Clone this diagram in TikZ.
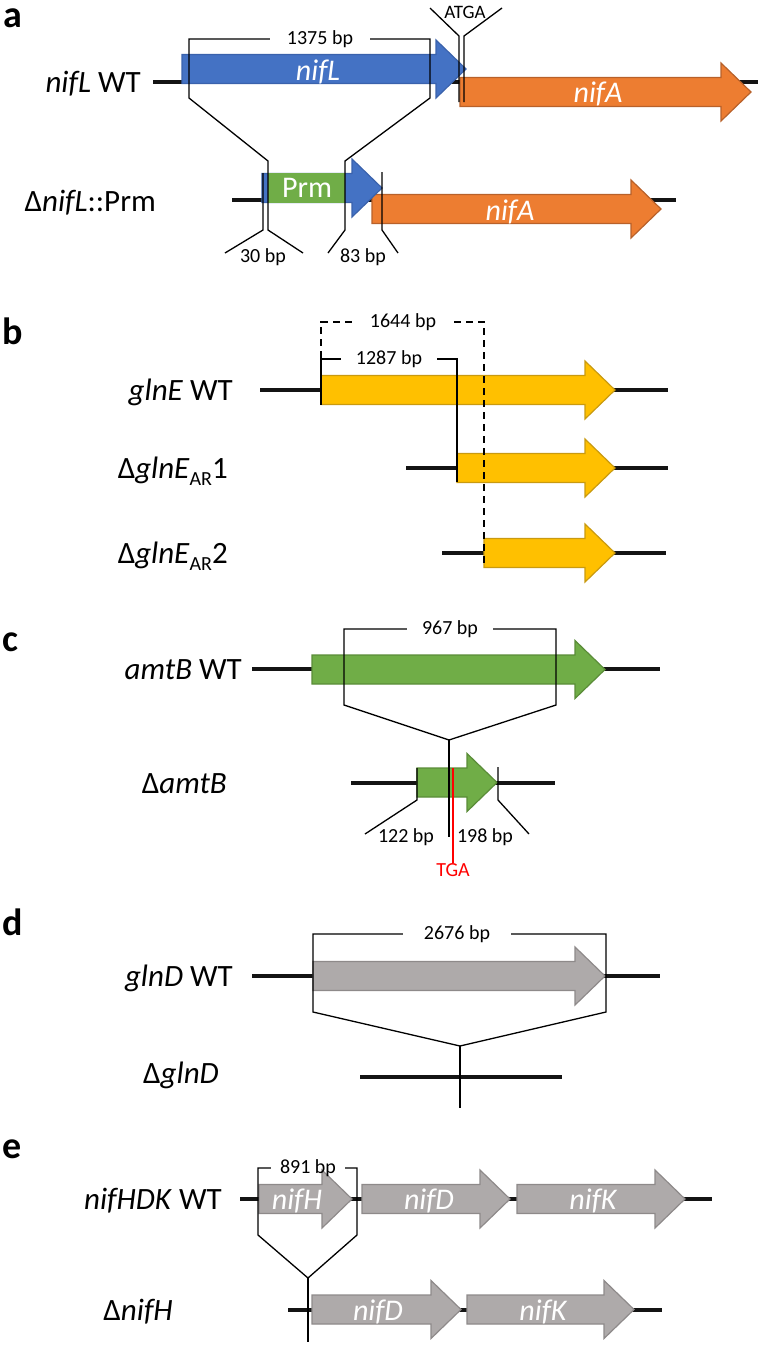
\documentclass[tikz,border=0pt]{standalone}
\usepackage{fontspec}
\setmainfont{Carlito}
\usetikzlibrary{calc}

\definecolor{nifblue}{HTML}{4472C4}
\definecolor{nifblueline}{HTML}{3A62AC}
\definecolor{niforange}{HTML}{ED7D31}
\definecolor{niforangeline}{HTML}{B8612A}
\definecolor{prmgreen}{HTML}{70AD47}
\definecolor{prmgreenline}{HTML}{5A8C38}
\definecolor{glnyellow}{HTML}{FFC000}
\definecolor{glnyellowline}{HTML}{C99A10}
\definecolor{genegray}{HTML}{AEAAAA}
\definecolor{genegrayline}{HTML}{8E8A8A}

\def\bodyh{14.5} % half height of an arrow body
\def\headh{29}   % half height of an arrow head
\def\headl{30}   % length of an arrow head

% gene arrow: #1 style, #2 start x, #3 tip x, #4 centre y
\newcommand{\genearrow}[4]{%
	\draw[#1] (#2,#4-\bodyh) -- (#3-\headl,#4-\bodyh) -- (#3-\headl,#4-\headh)
	-- (#3,#4) -- (#3-\headl,#4+\headh) -- (#3-\headl,#4+\bodyh) -- (#2,#4+\bodyh) -- cycle;}

\begin{document}
\begin{tikzpicture}[x=1pt, y=-1pt,
		dna/.style={line width=4pt, black!92},
		bracket/.style={line width=1.3pt},
		dashbracket/.style={bracket, dash pattern=on 7pt off 5pt},
		bluegene/.style={fill=nifblue, draw=nifblueline, line width=1.2pt},
		orangegene/.style={fill=niforange, draw=niforangeline, line width=1.2pt},
		greengene/.style={fill=prmgreen, draw=prmgreenline, line width=1.2pt},
		yellowgene/.style={fill=glnyellow, draw=glnyellowline, line width=1.2pt},
		graygene/.style={fill=genegray, draw=genegrayline, line width=1.2pt},
		panel/.style={anchor=base west, inner sep=0pt, font=\fontsize{38}{42}\selectfont\bfseries},
		rowlabel/.style={anchor=base east, inner sep=0pt, font=\fontsize{31}{36}\selectfont},
		genelabel/.style={anchor=base, inner sep=0pt, text=white, font=\fontsize{30}{34}\selectfont\itshape},
		bplabel/.style={inner ysep=0pt, inner xsep=16pt, font=\fontsize{20}{24}\selectfont},
		smalllabel/.style={anchor=base, inner sep=0pt, font=\fontsize{20}{24}\selectfont}]
	
	\useasboundingbox (0,0) rectangle (760,1345);
	
	% ---------- a: nifL ----------
	\node[panel] (pa) at (3,27) {a};
	\node[rowlabel] (nifLwt) at (141,92) {\textit{nifL} WT};
	\node[rowlabel] (nifLprm) at (156,211) {Δ\textit{nifL}::Prm};
	
	\draw[dna] (153,82) -- (758,82);
	\genearrow{orangegene}{460}{751}{92}
	\genearrow{bluegene}{182}{466}{69}
	\node[genelabel] (tnifL) at (318,80) {nifL};
	\node[genelabel] (tnifA) at (598,102) {nifA};
	
	\draw[dna] (232,200) -- (676,200);
	\genearrow{orangegene}{372}{661}{209}
	\genearrow{bluegene}{262}{382}{188}
	\fill[prmgreen] (268,173) rectangle (345,203);
	\node[genelabel, font=\fontsize{30}{34}\selectfont] (tprm) at (307,197) {Prm};
	\node[genelabel] (tnifA2) at (510,220) {nifA};
	
	% deleted region and kept ends
	\node[bplabel, inner xsep=17pt] (l1375) at (320,39) {1375 bp};
	\coordinate (kl) at (268,161);
	\coordinate (kr) at (345,161);
	\draw[bracket] (l1375.west) -| (189,98) -- (kl) -- (268,230) -- (303,253);
	\draw[bracket] (l1375.east) -| (430,98) -- (kr) -- (345,230) -- (328,253);
	\draw[bracket] (263,173) -- (263,230) -- (225,253);
	\draw[bracket] (382,172) -- (382,230) -- (398,253);
	\node[smalllabel] (l30) at (263,262) {30 bp};
	\node[smalllabel] (l83) at (363,262) {83 bp};
	
	% ATGA overlap
	\node[font=\fontsize{19}{22}\selectfont, inner sep=0pt] (atga) at (465,12) {ATGA};
	\draw[bracket] (430,8) -- (459,36) -- (459,102);
	\draw[bracket] (502,8) -- (464,36) -- (464,102);
	
	% ---------- b: glnE ----------
	\node[panel] (pb) at (2,344) {b};
	\node[rowlabel] (glnEwt) at (233,400) {\textit{glnE} WT};
	\node[rowlabel] (glnEar1) at (228,478) {Δ\textit{glnE}\raisebox{-7pt}{\fontsize{20}{22}\selectfont AR}1};
	\node[rowlabel] (glnEar2) at (228,563) {Δ\textit{glnE}\raisebox{-7pt}{\fontsize{20}{22}\selectfont AR}2};
	
	\draw[dna] (260,390) -- (668,390);
	\genearrow{yellowgene}{321}{615}{390}
	\draw[dna] (406,468) -- (668,468);
	\genearrow{yellowgene}{457}{615}{468}
	\draw[dna] (442,553) -- (666,553);
	\genearrow{yellowgene}{484}{615}{553}
	
	\node[bplabel, inner xsep=18pt] (l1644) at (403,322) {1644 bp};
	\draw[dashbracket] (l1644.west) -| (321,376);
	\draw[dashbracket] (l1644.east) -| (484,567);
	\node[bplabel, inner xsep=15pt] (l1287) at (389,359) {1287 bp};
	\draw[bracket] (l1287.west) -| (321,405);
	\draw[bracket] (l1287.east) -| (457,482);
	
	% ---------- c: amtB ----------
	\node[panel] (pc) at (2,651) {c};
	\node[rowlabel] (amtBwt) at (242,679) {\textit{amtB} WT};
	\node[rowlabel] (amtBdel) at (227,793) {Δ\textit{amtB}};
	
	\draw[dna] (252,669) -- (660,669);
	\genearrow{greengene}{312}{605}{669.5}
	\draw[dna] (351,783) -- (555,783);
	\genearrow{greengene}{417}{497}{782.5}
	
	\node[bplabel, inner xsep=15pt] (l967) at (450,629) {967 bp};
	\coordinate (capex) at (449,740);
	\draw[bracket] (l967.west) -| (344,705) -- (capex);
	\draw[bracket] (l967.east) -| (556,705) -- (capex);
	\draw[bracket] (capex) -- (449,837);
	\draw[bracket] (417,768) -- (417,800) -- (365,834);
	\draw[bracket] (498,767) -- (498,800) -- (529,834);
	\node[smalllabel] (l122) at (406,842) {122 bp};
	\node[smalllabel] (l198) at (485,842) {198 bp};
	\node[smalllabel, text=red] (tga) at (453,876) {TGA};
	\draw[red, line width=1.3pt] (453,768) -- (tga.north);
	
	% ---------- d: glnD ----------
	\node[panel] (pd) at (2,935) {d};
	\node[rowlabel] (glnDwt) at (233,986) {\textit{glnD} WT};
	\node[rowlabel] (glnDdel) at (219,1083) {Δ\textit{glnD}};
	
	\draw[dna] (252,976) -- (660,976);
	\genearrow{graygene}{313}{605}{976}
	\draw[dna] (360,1077) -- (562,1077);
	
	\node[bplabel, inner xsep=21pt] (l2676) at (457,934) {2676 bp};
	\coordinate (dapex) at (460,1046);
	\draw[bracket] (l2676.west) -| (313,1012) -- (dapex);
	\draw[bracket] (l2676.east) -| (606,1012) -- (dapex);
	\draw[bracket] (dapex) -- (460,1108);
	
	% ---------- e: nifHDK ----------
	\node[panel] (pe) at (2,1158) {e};
	\node[rowlabel] (nifHDKwt) at (222,1209) {\textit{nifHDK} WT};
	\node[rowlabel] (nifHdel) at (173,1320) {Δ\textit{nifH}};
	
	\draw[dna] (240,1199) -- (712,1199);
	\genearrow{graygene}{259}{352}{1199}
	\genearrow{graygene}{362}{510}{1199}
	\genearrow{graygene}{517}{685}{1199}
	\node[genelabel] (tnifH) at (297,1209) {nifH};
	\node[genelabel] (tnifD) at (429,1209) {nifD};
	\node[genelabel] (tnifK) at (593,1209) {nifK};
	
	\draw[dna] (288,1310) -- (662,1310);
	\genearrow{graygene}{312}{461}{1309.5}
	\genearrow{graygene}{467}{634}{1309.5}
	\node[genelabel] (tnifD2) at (378,1320) {nifD};
	\node[genelabel] (tnifK2) at (543,1320) {nifK};
	
	\node[bplabel, inner xsep=9pt] (l891) at (308,1168) {891 bp};
	\coordinate (eapex) at (308,1278);
	\draw[bracket] (l891.west) -| (258,1235) -- (eapex);
	\draw[bracket] (l891.east) -| (357,1235) -- (eapex);
	\draw[bracket] (eapex) -- (308,1342);
	
\end{tikzpicture}
\end{document}
